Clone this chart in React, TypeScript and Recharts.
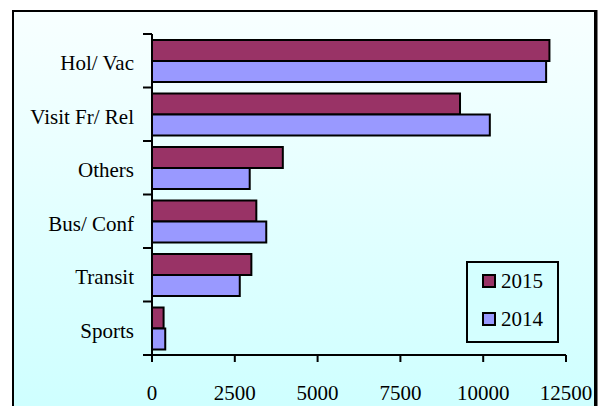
import { BarChart, Bar, XAxis, YAxis, CartesianGrid } from "recharts";

if (typeof document !== "undefined") {
  document.body.style.margin = "0";
}

const categories = ["Hol/ Vac", "Visit Fr/ Rel", "Others", "Bus/ Conf", "Transit", "Sports"];
const values2015 = [12000, 9300, 3950, 3150, 3000, 350];
const values2014 = [11900, 10200, 2950, 3450, 2650, 400];
const xTicks = [0, 2500, 5000, 7500, 10000, 12500];
const series = [
  { key: "y2015", name: "2015", color: "#993366" },
  { key: "y2014", name: "2014", color: "#9999ff" },
];

const data = categories.map((name, i) => ({
  name,
  y2015: values2015[i],
  y2014: values2014[i],
}));

const W = 598;
const H = 406;
const MARGIN = { top: 34, right: 32, left: 12, bottom: 11 };
const XAXIS_H = 40;
const PLOT_H = H - MARGIN.top - MARGIN.bottom - XAXIS_H;
const FONT = "Liberation Serif, Times New Roman, serif";
const LEGEND = { x: 467, y: 262, w: 91, h: 80, row: 38 };

function CategoryTick(props: any) {
  const { x, y, payload, index } = props;
  const half = PLOT_H / categories.length / 2;
  return (
    <g>
      <line x1={x + 9} x2={x + 18} y1={y - half} y2={y - half} stroke="#000" strokeWidth={2} />
      {index === categories.length - 1 && (
        <line x1={x + 9} x2={x + 18} y1={y + half} y2={y + half} stroke="#000" strokeWidth={2} />
      )}
      <text x={x} y={y} dy={9.5} textAnchor="end" fill="#000" fontSize={21} fontFamily={FONT}>
        {payload.value}
      </text>
    </g>
  );
}

function ValueTick(props: any) {
  const { x, y, payload } = props;
  return (
    <text x={x} y={y} dy={15} textAnchor="middle" fill="#000" fontSize={21} fontFamily={FONT}>
      {payload.value}
    </text>
  );
}

export default function App() {
  return (
    <div style={{ position: "relative", width: W, height: H, overflow: "hidden", background: "#fff" }}>
      <BarChart
        width={W}
        height={H}
        data={data}
        layout="vertical"
        margin={MARGIN}
        barCategoryGap="11%"
        barGap={0}
      >
        <defs>
          <linearGradient id="frameBg" x1="0" y1="0" x2="0" y2="1">
            <stop offset="0%" stopColor="#f8ffff" />
            <stop offset="100%" stopColor="#ccffff" />
          </linearGradient>
        </defs>
        <rect x={13} y={11} width={582} height={420} fill="url(#frameBg)" stroke="#000" strokeWidth={2} />
        <line x1={596} x2={596} y1={10} y2={H} stroke="#000" strokeWidth={3} />
        <CartesianGrid horizontal={false} vertical stroke="#000" strokeWidth={1.5} />
        <XAxis
          type="number"
          domain={[0, 12500]}
          ticks={xTicks}
          height={XAXIS_H}
          axisLine={{ stroke: "#000", strokeWidth: 2 }}
          tickLine={{ stroke: "#000", strokeWidth: 2 }}
          tickSize={7}
          tickMargin={23}
          tick={<ValueTick />}
          interval={0}
        />
        <XAxis
          xAxisId="top"
          orientation="top"
          type="number"
          domain={[0, 12500]}
          ticks={xTicks}
          height={0}
          axisLine={{ stroke: "#000", strokeWidth: 2 }}
          tickLine={{ stroke: "#000", strokeWidth: 1.5 }}
          tickSize={4}
          tick={false}
        />
        <YAxis
          type="category"
          dataKey="name"
          width={140}
          axisLine={{ stroke: "#000", strokeWidth: 2 }}
          tickLine={false}
          tickSize={9}
          tickMargin={9}
          tick={<CategoryTick />}
          interval={0}
        />
        {series.map((s) => (
          <Bar
            key={s.key}
            dataKey={s.key}
            name={s.name}
            fill={s.color}
            stroke="#000"
            strokeWidth={2}
            isAnimationActive={false}
          />
        ))}
        <g className="legend">
          <rect
            x={LEGEND.x}
            y={LEGEND.y}
            width={LEGEND.w}
            height={LEGEND.h}
            fill="#d4ffff"
            stroke="#000"
            strokeWidth={2}
          />
          {series.map((s, i) => (
            <g key={s.key}>
              <rect
                x={LEGEND.x + 16}
                y={LEGEND.y + 13 + i * LEGEND.row}
                width={12}
                height={12}
                fill={s.color}
                stroke="#000"
                strokeWidth={2}
              />
              <text
                x={LEGEND.x + 34}
                y={LEGEND.y + 26 + i * LEGEND.row}
                fill="#000"
                fontSize={21}
                fontFamily={FONT}
              >
                {s.name}
              </text>
            </g>
          ))}
        </g>
      </BarChart>
    </div>
  );
}
